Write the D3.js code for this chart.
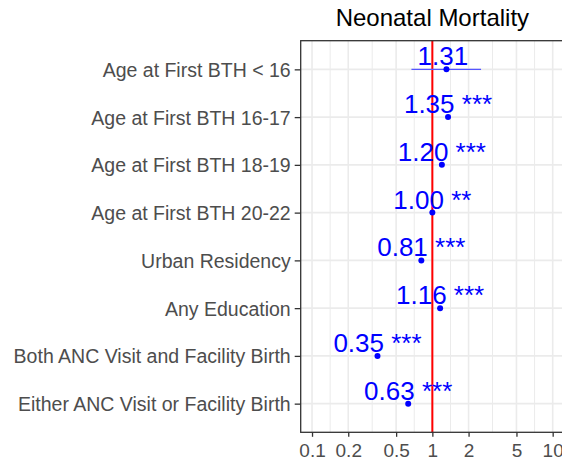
<!DOCTYPE html>
<html>
<head>
<meta charset="utf-8">
<script src="https://cdn.jsdelivr.net/npm/d3@7"></script>
<style>
    body { margin: 0; background: #fff; }
    #chart-area { width: 562px; height: 462px; overflow: hidden; }
    text { font-family: "Liberation Sans", Arial, sans-serif; }
</style>
</head>
<body>
<div id="chart-area"></div>
<script>
// Data
const categories = [
    "Age at First BTH < 16",
    "Age at First BTH 16-17",
    "Age at First BTH 18-19",
    "Age at First BTH 20-22",
    "Urban Residency",
    "Any Education",
    "Both ANC Visit and Facility Birth",
    "Either ANC Visit or Facility Birth"
];
const oddsRatios = [1.31, 1.35, 1.20, 1.00, 0.81, 1.16, 0.35, 0.63];
const lowerCI = [0.67, 1.30, 1.17, 0.98, 0.79, 1.13, 0.34, 0.61];
const upperCI = [2.54, 1.40, 1.23, 1.02, 0.83, 1.19, 0.36, 0.65];
const stars = ["", "***", "***", "**", "***", "***", "***", "***"];
const xTicks = [0.1, 0.2, 0.5, 1, 2, 5, 10];
const xMinorTicks = [0.1414, 0.3162, 0.7071, 1.414, 3.162, 7.071];
const plotTitle = "Neonatal Mortality";

class ForestPlot {
    constructor(parentElement) {
        this.parentElement = parentElement;
        this.initVis();
    }

    initVis() {
        let vis = this;

        vis.svgWidth = 562;
        vis.svgHeight = 462;
        // panel runs a little past the right edge of the picture
        vis.margin = { top: 40.7, right: -2, bottom: 29.7, left: 300.7 };
        vis.width = vis.svgWidth - vis.margin.left - vis.margin.right;
        vis.height = vis.svgHeight - vis.margin.top - vis.margin.bottom;

        vis.svg = d3.select("#" + vis.parentElement)
            .append("svg")
            .attr("width", vis.svgWidth)
            .attr("height", vis.svgHeight)
            .append("g")
            .attr("transform", `translate(${vis.margin.left}, ${vis.margin.top})`);

        // Scales (log x with ~4.3% expansion on each side)
        let pad = vis.width * 0.043;
        vis.x = d3.scaleLog()
            .domain([0.1, 10])
            .range([pad, vis.width - pad]);

        vis.y = d3.scalePoint()
            .domain(categories)
            .range([0, vis.height])
            .padding(0.6);

        // Grid lines
        vis.svg.append("g").selectAll("line.minor-x")
            .data(xMinorTicks)
            .enter().append("line")
            .attr("x1", d => vis.x(d)).attr("x2", d => vis.x(d))
            .attr("y1", 0).attr("y2", vis.height)
            .attr("stroke", "#EBEBEB").attr("stroke-width", 1);

        vis.svg.append("g").selectAll("line.major-x")
            .data(xTicks)
            .enter().append("line")
            .attr("x1", d => vis.x(d)).attr("x2", d => vis.x(d))
            .attr("y1", 0).attr("y2", vis.height)
            .attr("stroke", "#EBEBEB").attr("stroke-width", 1.6);

        vis.svg.append("g").selectAll("line.major-y")
            .data(categories)
            .enter().append("line")
            .attr("x1", 0).attr("x2", vis.width)
            .attr("y1", d => vis.y(d)).attr("y2", d => vis.y(d))
            .attr("stroke", "#EBEBEB").attr("stroke-width", 1.6);

        // Reference line at 1
        vis.svg.append("line")
            .attr("x1", vis.x(1)).attr("x2", vis.x(1))
            .attr("y1", 0).attr("y2", vis.height)
            .attr("stroke", "#FF0000").attr("stroke-width", 2);

        vis.rows = categories.map((c, i) => ({
            cat: c, or: oddsRatios[i], lo: lowerCI[i], hi: upperCI[i], sig: stars[i]
        }));

        // Confidence intervals
        vis.svg.append("g").selectAll("line.ci")
            .data(vis.rows)
            .enter().append("line")
            .attr("x1", d => vis.x(d.lo)).attr("x2", d => vis.x(d.hi))
            .attr("y1", d => vis.y(d.cat)).attr("y2", d => vis.y(d.cat))
            .attr("stroke", "#5555FF").attr("stroke-width", 1.3);

        // Points
        vis.svg.append("g").selectAll("circle")
            .data(vis.rows)
            .enter().append("circle")
            .attr("cx", d => vis.x(d.or))
            .attr("cy", d => vis.y(d.cat))
            .attr("r", 3)
            .attr("fill", "#0000FF");

        // Value labels
        vis.svg.append("g").selectAll("text.value")
            .data(vis.rows)
            .enter().append("text")
            .attr("class", "value")
            .attr("xml:space", "preserve")
            .style("white-space", "pre")
            .attr("x", d => vis.x(d.or))
            .attr("y", d => vis.y(d.cat) - 4)
            .attr("text-anchor", "middle")
            .attr("font-size", "26px")
            .attr("fill", "#0000FF")
            .text(d => `${d.or.toFixed(2)} ${d.sig}`);

        // Panel border
        vis.svg.append("rect")
            .attr("x", 0).attr("y", 0)
            .attr("width", vis.width).attr("height", vis.height)
            .attr("fill", "none")
            .attr("stroke", "#333333").attr("stroke-width", 1.3);

        // Axes
        vis.xAxisGroup = vis.svg.append("g")
            .attr("transform", `translate(0, ${vis.height})`)
            .call(d3.axisBottom(vis.x).tickValues(xTicks).tickFormat(d3.format("~g")).tickSize(4.5).tickPadding(6.5));

        vis.yAxisGroup = vis.svg.append("g")
            .call(d3.axisLeft(vis.y).tickSize(6).tickPadding(4));

        vis.svg.selectAll(".domain").remove();
        vis.svg.selectAll(".tick line").attr("stroke", "#333333").attr("stroke-width", 1.3);
        vis.xAxisGroup.selectAll("text")
            .attr("font-size", "19px").attr("fill", "#4D4D4D")
            .attr("font-family", "Liberation Sans, Arial, sans-serif");
        vis.yAxisGroup.selectAll("text")
            .attr("font-size", "19.5px").attr("fill", "#4D4D4D")
            .attr("dy", "0.36em")
            .attr("font-family", "Liberation Sans, Arial, sans-serif");

        // Title
        vis.svg.append("text")
            .attr("x", vis.width / 2)
            .attr("y", 26 - vis.margin.top)
            .attr("text-anchor", "middle")
            .attr("font-size", "24px")
            .attr("fill", "#000")
            .text(plotTitle);
    }
}

new ForestPlot("chart-area");
</script>
</body>
</html>
